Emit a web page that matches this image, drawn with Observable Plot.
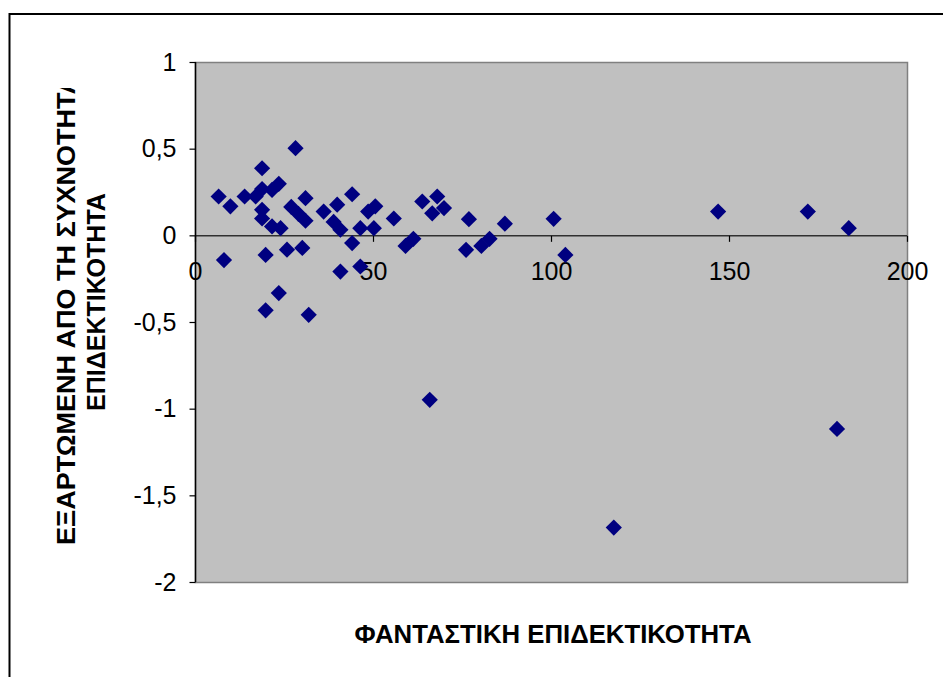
<!DOCTYPE html>
<html><head><meta charset="utf-8">
<script src="https://cdn.jsdelivr.net/npm/d3@7"></script>
<script src="https://cdn.jsdelivr.net/npm/@observablehq/plot@0.6"></script>
<style>body{margin:0;background:#fff;} svg{display:block}</style>
</head><body><div id="chart"></div>
<script>
const xValues = [6.5, 8.0, 9.8, 13.8, 16.9, 18.7, 18.7, 18.7, 18.7, 19.7, 19.7, 21.5, 21.5, 23.4, 23.4, 23.9, 25.7, 26.9, 28.1, 28.9, 30.0, 30.9, 30.9, 31.8, 36.0, 38.8, 39.8, 40.7, 40.7, 44.0, 44.0, 46.3, 46.3, 48.5, 50.5, 50.1, 55.7, 59.0, 61.2, 63.7, 65.8, 66.5, 67.9, 69.8, 76.0, 76.8, 80.3, 82.6, 86.9, 100.6, 103.9, 117.5, 146.8, 172.0, 180.2, 183.5];
const yValues = [0.227, -0.14, 0.17, 0.227, 0.227, 0.27, 0.39, 0.15, 0.10, -0.11, -0.43, 0.265, 0.054, 0.30, -0.33, 0.044, -0.08, 0.167, 0.506, 0.127, -0.07, 0.217, 0.087, -0.456, 0.14, 0.08, 0.18, 0.035, -0.206, 0.24, -0.042, 0.044, -0.177, 0.14, 0.17, 0.044, 0.10, -0.058, -0.017, 0.198, -0.946, 0.13, 0.227, 0.16, -0.081, 0.096, -0.058, -0.017, 0.07, 0.098, -0.11, -1.683, 0.14, 0.14, -1.114, 0.044];
const xTicks = [0, 50, 100, 150, 200];
const yTicks = [-2, -1.5, -1, -0.5, 0, 0.5, 1];
const xTitle = "ΦΑΝΤΑΣΤΙΚΗ ΕΠΙΔΕΚΤΙΚΟΤΗΤΑ";
const yTitleLines = ["ΕΞΑΡΤΩΜΕΝΗ ΑΠΟ ΤΗ ΣΥΧΝΟΤΗΤΑ", "ΕΠΙΔΕΚΤΙΚΟΤΗΤΑ"];

const points = xValues.map((x, i) => ({x, y: yValues[i]}));
const fmt = d => String(d).replace(".", ",");
const tickDown = {draw(ctx) { ctx.moveTo(0, 0); ctx.lineTo(0, 6); }};
const tickLeft = {draw(ctx) { ctx.moveTo(0, 0); ctx.lineTo(-6, 0); }};
const FONT = "'Liberation Sans', Arial, sans-serif";

const chart = Plot.plot({
  width: 943, height: 677,
  marginLeft: 195, marginRight: 36, marginTop: 62, marginBottom: 95,
  x: {domain: [0, 200], axis: null},
  y: {domain: [-2, 1], axis: null},
  style: {background: "white", fontFamily: FONT, color: "black"},
  marks: [
    Plot.frame({fill: "#C0C0C0", stroke: "#808080", strokeWidth: 1.5}),
    Plot.ruleY([0], {stroke: "#303030", strokeWidth: 1.5}),
    Plot.ruleX([0], {stroke: "#000", strokeWidth: 1.5}),
    Plot.dot(xTicks, {x: d => d, y: () => 0, symbol: tickDown, stroke: "#000", fill: "none", strokeWidth: 1.2}),
    Plot.dot(yTicks, {x: () => 0, y: d => d, symbol: tickLeft, stroke: "#000", fill: "none", strokeWidth: 1.2}),
    Plot.text(xTicks, {x: d => d, y: () => 0, dy: 36, text: fmt, fontSize: 25, fill: "#000"}),
    Plot.text(yTicks, {x: () => 0, y: d => d, dx: -19, text: fmt, textAnchor: "end", fontSize: 25, fill: "#000"}),
    Plot.dot(points, {x: "x", y: "y", symbol: "diamond2", r: 7.3, fill: "#000080", stroke: "none"})
  ]
});
document.getElementById("chart").appendChild(chart);

const svg = d3.select(chart);
svg.append("rect").attr("x", 9.5).attr("y", 14).attr("width", 1000).attr("height", 1000)
  .attr("fill", "none").attr("stroke", "#000").attr("stroke-width", 2);
const defs = svg.append("defs");
defs.append("clipPath").attr("id", "ytclip").append("rect")
  .attr("x", 0).attr("y", 88).attr("width", 190).attr("height", 600);
const yt = svg.append("g").attr("clip-path", "url(#ytclip)")
  .attr("font-family", FONT).attr("font-weight", "bold").attr("font-size", 25).attr("fill", "#000");
yt.append("text").attr("transform", "translate(66,545) rotate(-90)")
  .attr("text-anchor", "start").attr("dominant-baseline", "central")
  .attr("textLength", 470).attr("lengthAdjust", "spacingAndGlyphs").text(yTitleLines[0]);
yt.append("text").attr("transform", "translate(96,302) rotate(-90)")
  .attr("text-anchor", "middle").attr("dominant-baseline", "central").text(yTitleLines[1]);
svg.append("text").attr("x", 553).attr("y", 634).attr("text-anchor", "middle")
  .attr("dominant-baseline", "central").attr("font-family", FONT).attr("font-weight", "bold")
  .attr("font-size", 26).attr("textLength", 397).attr("lengthAdjust", "spacingAndGlyphs")
  .attr("fill", "#000").text(xTitle);
</script></body></html>
